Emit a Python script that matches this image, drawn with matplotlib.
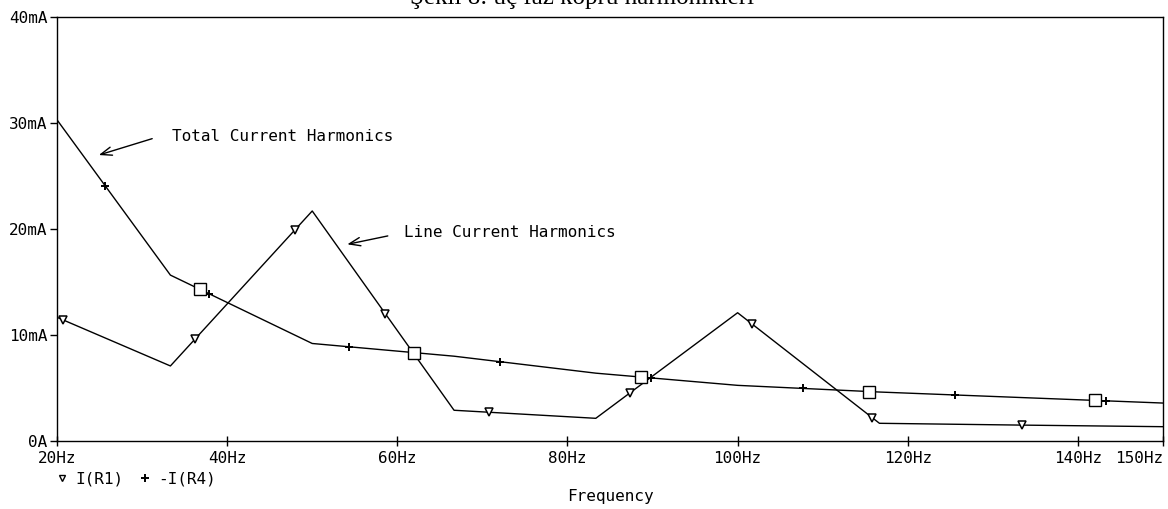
import numpy as np
import matplotlib
matplotlib.use("Agg")
import matplotlib.pyplot as plt
from matplotlib.lines import Line2D

plt.rcParams["font.family"] = ["DejaVu Sans Mono", "DejaVu Sans"]

# harmonic frequencies (Hz), trace starts at 20Hz
freq = [20, 33.33, 50, 66.67, 83.33, 100, 116.67, 133.33, 150]
# I(R1): line current harmonics (mA)
i_line = [11.67, 7.08, 21.7, 2.9, 2.14, 12.1, 1.67, 1.5, 1.35]
# -I(R4): total current harmonics (mA)
i_total = [30.3, 15.65, 9.2, 8.0, 6.4, 5.25, 4.62, 4.1, 3.58]

# marker positions along the traces (Hz)
tri_f = [20.7, 36.2, 48.0, 58.6, 70.8, 87.4, 101.7, 115.8, 133.4]
plus_f = [25.7, 37.9, 54.3, 72.1, 89.8, 107.7, 125.5, 143.3]
sq_f = [36.8, 62.0, 88.7, 115.5, 142.0]

xticks = [20, 40, 60, 80, 100, 120, 140, 150]
yticks = [0, 10, 20, 30, 40]
ylabels = ["0A", "10mA", "20mA", "30mA", "40mA"]

fig = plt.figure(figsize=(11.68, 5.09), dpi=100)
ax = fig.add_axes([57 / 1168, 1 - 441 / 509, (1163 - 57) / 1168, (441 - 17) / 509])

ax.plot(freq, i_line, color="black", lw=1.0, zorder=2)
ax.plot(freq, i_total, color="black", lw=1.0, zorder=2)

ax.plot(tri_f, np.interp(tri_f, freq, i_line), ls="none", marker="v",
        ms=5.5, mfc="white", mec="black", mew=1.1, zorder=3)
ax.plot(plus_f, np.interp(plus_f, freq, i_total), ls="none", marker="+",
        ms=6, mec="black", mew=1.4, zorder=3)
ax.plot(sq_f, np.interp(sq_f, freq, i_total), ls="none", marker="s",
        ms=9, mfc="white", mec="black", mew=1.0, zorder=4)

ax.set_xlim(20, 150)
ax.set_ylim(0, 40)
ax.set_xticks(xticks)
ax.set_xticklabels([f"{v}Hz" for v in xticks], fontsize=11.5)
ax.get_xticklabels()[-1].set_ha("right")
ax.set_yticks(yticks)
ax.set_yticklabels(ylabels, fontsize=11.5)
ax.tick_params(axis="x", direction="inout", length=7, width=1, pad=4)
ax.tick_params(axis="y", direction="out", length=5, width=1, pad=2)
for s in ax.spines.values():
    s.set_linewidth(1.0)

# x-axis title
fig.text(610 / 1168, 1 - 497 / 509, "Frequency", fontsize=11.5,
         ha="center", va="center")

# annotations
arrow = dict(arrowstyle="->,head_length=0.8,head_width=0.3", color="black", lw=1.0)
ax.annotate("", xy=(24.6, 26.9), xytext=(31.5, 28.6), arrowprops=arrow)
ax.text(33.5, 28.7, "Total Current Harmonics", fontsize=11.5, va="center")
ax.annotate("", xy=(53.8, 18.5), xytext=(59.2, 19.4), arrowprops=arrow)
ax.text(60.8, 19.7, "Line Current Harmonics", fontsize=11.5, va="center")

# trace legend
handles = [
    Line2D([], [], ls="none", marker="v", ms=5, mfc="white", mec="black", mew=1.0),
    Line2D([], [], ls="none", marker="+", ms=6, mec="black", mew=1.4),
]
ax.legend(handles, ["I(R1)", "-I(R4)"], ncol=2, frameon=False, fontsize=11.5,
          loc="upper left", bbox_to_anchor=(-0.001, -0.073), handlelength=0.8,
          handletextpad=0.45, columnspacing=0.9, borderpad=0, borderaxespad=0)

# cut-off caption at the top edge
fig.text(582 / 1168, 1 - 4 / 509, "Şekil 8: üç faz köprü harmonikleri",
         family="Liberation Serif", fontsize=18, ha="center", va="baseline")

fig.savefig("out.png", dpi=100)
